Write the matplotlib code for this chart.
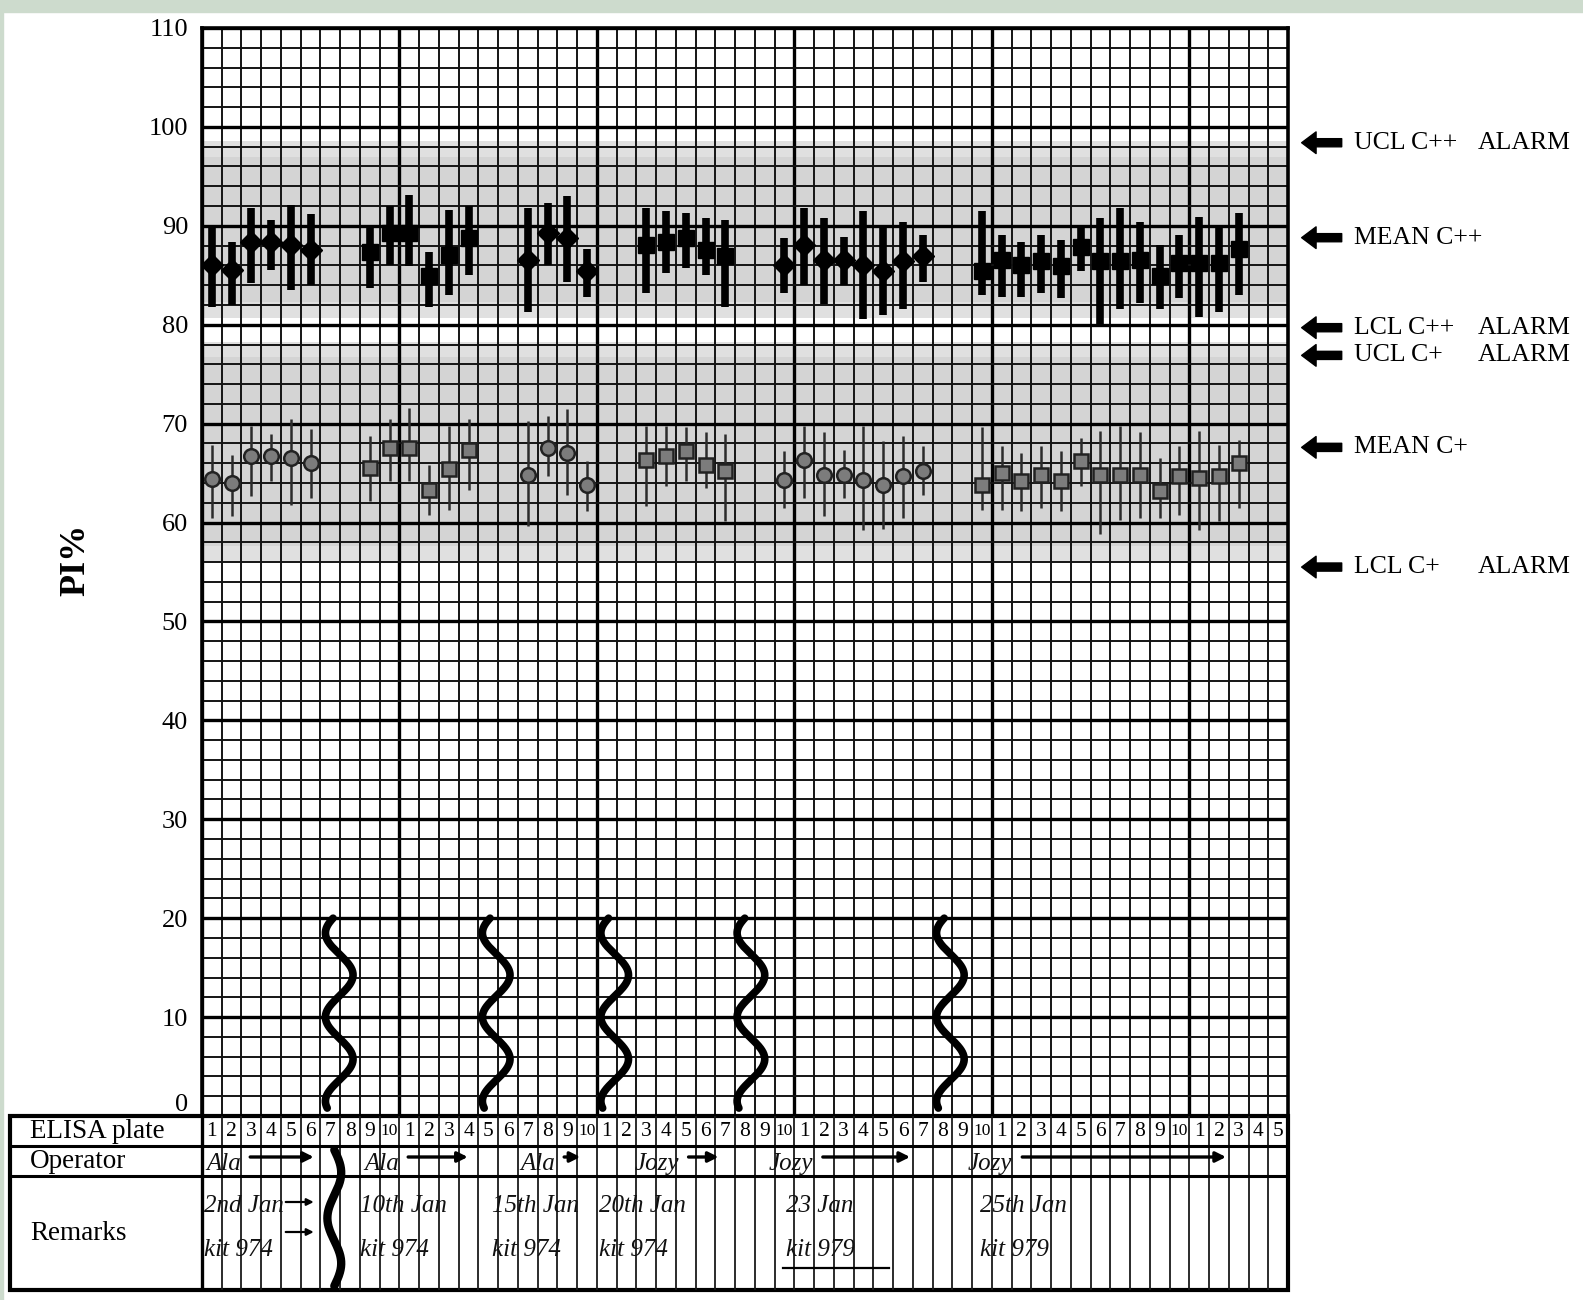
import numpy as np
import matplotlib
matplotlib.use('Agg')
import matplotlib.pyplot as plt
from matplotlib.patches import Rectangle

plt.rcParams['font.family'] = ['Liberation Serif', 'DejaVu Serif']

# ---- values -------------------------------------------------------------
n_slots = 55  # ELISA plate slots along the bottom
plate_labels = [str(i % 10 + 1) for i in range(n_slots)]

# slot (0-based column) of every plotted plate
run_cols = [0, 1, 2, 3, 4, 5,
            8, 9, 10, 11, 12, 13,
            16, 17, 18, 19,
            22, 23, 24, 25, 26,
            29, 30, 31, 32, 33, 34, 35, 36,
            39, 40, 41, 42, 43, 44, 45, 46, 47, 48, 49, 50, 51, 52]

# strong positive control (C++)
cpp_mean = [86.0, 85.5, 88.4, 88.4, 88.1, 87.6,
            87.4, 89.3, 89.3, 84.9, 87.1, 88.8,
            86.5, 89.3, 88.8, 85.4,
            88.1, 88.4, 88.8, 87.6, 86.9,
            86.0, 88.1, 86.5, 86.5, 86.0, 85.4, 86.4, 86.9,
            85.4, 86.5, 86.0, 86.4, 85.9, 87.9, 86.4, 86.4, 86.5, 84.9, 86.2, 86.2, 86.2, 87.7]
cpp_hi = [89.8, 88.4, 91.8, 90.6, 92.1, 91.2,
          90.1, 92.0, 93.1, 87.4, 91.6, 92.0,
          91.8, 92.3, 93.0, 87.7,
          91.8, 91.5, 91.3, 90.8, 90.6,
          88.8, 91.8, 90.8, 88.9, 91.5, 89.8, 90.4, 89.1,
          91.5, 89.1, 88.4, 89.1, 88.6, 89.9, 90.8, 91.8, 90.4, 88.1, 89.1, 90.9, 89.8, 91.3]
cpp_lo = [81.8, 82.0, 84.2, 85.5, 83.5, 84.0,
          83.7, 86.0, 85.9, 81.8, 83.0, 85.0,
          81.3, 86.0, 84.3, 82.8,
          83.2, 85.2, 85.7, 85.0, 81.8,
          83.2, 84.0, 82.1, 84.0, 80.6, 81.0, 81.6, 84.3,
          83.0, 82.8, 82.8, 83.2, 82.7, 85.4, 80.1, 81.6, 82.2, 81.6, 82.7, 80.8, 81.3, 83.0]

# weak positive control (C+)
cp_mean = [64.4, 64.0, 66.7, 66.7, 66.5, 66.0,
           65.5, 67.5, 67.5, 63.3, 65.4, 67.3,
           64.8, 67.5, 67.0, 63.8,
           66.3, 66.7, 67.2, 65.8, 65.2,
           64.3, 66.3, 64.8, 64.8, 64.3, 63.8, 64.7, 65.2,
           63.8, 65.0, 64.2, 64.8, 64.2, 66.2, 64.8, 64.8, 64.8, 63.2, 64.7, 64.5, 64.7, 66.0]
cp_hi = [67.8, 66.8, 69.8, 69.0, 70.5, 69.5,
         68.7, 70.5, 71.6, 65.8, 69.8, 70.5,
         70.3, 70.8, 71.5, 66.2,
         69.8, 69.8, 69.7, 69.2, 69.0,
         67.2, 69.8, 69.2, 67.3, 69.8, 68.2, 68.8, 67.7,
         69.7, 67.7, 67.0, 67.7, 67.2, 68.5, 69.3, 69.8, 69.2, 66.5, 67.7, 69.3, 67.8, 68.3]
cp_lo = [60.5, 60.7, 62.7, 64.2, 61.8, 62.5,
         62.2, 64.2, 64.2, 60.8, 61.3, 63.3,
         59.7, 64.7, 62.8, 61.2,
         61.7, 63.7, 64.2, 63.5, 60.2,
         61.5, 62.5, 60.7, 62.5, 59.2, 59.3, 60.5, 62.8,
         61.3, 61.3, 61.2, 61.5, 61.2, 63.7, 58.8, 60.3, 60.5, 60.5, 60.8, 59.2, 60.2, 61.5]

# control bands (shaded) and the arrow labels on the right
band_pp = (80.7, 98.6)
band_p = (56.0, 78.3)
limit_names = ['UCL C++', 'MEAN C++', 'LCL C++', 'UCL C+', 'MEAN C+', 'LCL C+']
limit_levels = [98.4, 88.8, 79.7, 76.9, 67.6, 55.5]
limit_alarm = [True, False, True, True, False, True]

# breaks between sessions (squiggles), in slot units
break_cols = [6.95, 14.9, 20.9, 27.8, 37.9]

# handwritten notes in the table: (text, start slot, end of arrow)
operators = [('Ala', 0.1, 5.8), ('Ala', 8.1, 13.6), ('Ala', 16.0, 19.3),
             ('Jozy', 21.8, 26.3), ('Jozy', 28.6, 36.0), ('Jozy', 38.7, 52.0)]
remarks = [('2nd Jan', 'kit 974', 0.1), ('10th Jan', 'kit 974', 8.0),
           ('15th Jan', 'kit 974', 14.7), ('20th Jan', 'kit 974', 20.1),
           ('23 Jan', 'kit 979', 29.6), ('25th Jan', 'kit 979', 39.4)]

# ---- figure ---------------------------------------------------------------
W, H = 1583, 1300
fig = plt.figure(figsize=(W / 100, H / 100), dpi=100)
fig.patches.append(Rectangle((0, 1 - 12 / H), 1, 12 / H, transform=fig.transFigure,
                             color='#cddbcd', zorder=0))
fig.patches.append(Rectangle((0, 0), 3 / W, 1, transform=fig.transFigure,
                             color='#cddbcd', zorder=0))

ax_l, ax_r, ax_t, ax_b = 202, 1288, 28, 1116
ax = fig.add_axes([ax_l / W, 1 - ax_b / H, (ax_r - ax_l) / W, (ax_b - ax_t) / H])
ax.set_xlim(0, n_slots)
ax.set_ylim(0, 110)

# shaded control bands (lighter outer strip, darker inner)
for lo, hi in (band_pp, band_p):
    ax.axhspan(lo, hi, color='#e0e0e0', zorder=0.2, lw=0)
    ax.axhspan(lo + 1.6, hi - 1.6, color='#d4d4d4', zorder=0.3, lw=0)

# graph-paper grid
ax.set_xticks(np.arange(0, n_slots + 1, 10))
ax.set_xticks(np.arange(0, n_slots + 1, 1), minor=True)
ax.set_yticks(np.arange(0, 111, 10))
ax.set_yticks(np.arange(0, 111, 2), minor=True)
ax.set_axisbelow(True)
ax.grid(which='minor', color='#141414', lw=1.4)
ax.grid(which='major', color='black', lw=2.4)
ax.tick_params(which='both', length=0)
ax.tick_params(axis='y', pad=10, labelsize=19)
ax.set_xticklabels([])
ax.get_yticklabels()[0].set_va('bottom')
for s in ax.spines.values():
    s.set_linewidth(2.6)

# split runs into sessions to alternate the marker shapes like the chart
xs = np.array(run_cols) + 0.5
session = np.concatenate([[0], np.cumsum(np.diff(run_cols) > 1)])

ax.vlines(xs, cpp_lo, cpp_hi, color='black', lw=5.5, zorder=3)
ax.vlines(xs, cp_lo, cp_hi, color='#2b2b2b', lw=1.8, zorder=3)
for k in np.unique(session):
    m = session == k
    ax.plot(xs[m], np.array(cpp_mean)[m], ls='none', marker='D' if k % 2 == 0 else 's',
            ms=11.5, color='black', zorder=4)
    ax.plot(xs[m], np.array(cp_mean)[m], ls='none', marker='o' if k % 2 == 0 else 's',
            ms=10.5, mfc='#7c7c7c', mec='#222222', mew=1.8, zorder=4)

# session-break squiggles
v = np.linspace(0.8, 20, 300)
for c in break_cols:
    ax.plot(c - 0.7 * np.cos(2 * np.pi * (v - 10) / 8.5), v, color='black', lw=5.5,
            solid_capstyle='round', zorder=5)

# arrows and limit labels on the right
yt = ax.get_yaxis_transform()
for name, lv, alarm in zip(limit_names, limit_levels, limit_alarm):
    ax.annotate('', xy=(1.010, lv), xytext=(1.052, lv), xycoords=yt, textcoords=yt,
                arrowprops=dict(arrowstyle='simple,head_length=0.8,head_width=1.2,tail_width=0.45',
                                fc='black', ec='black', mutation_scale=13))
    ax.text(1.061, lv, name, transform=yt, va='center', ha='left', fontsize=18.5)
    if alarm:
        ax.text(1.175, lv, 'ALARM', transform=yt, va='center', ha='left', fontsize=18.5)

fig.text(76 / W, 1 - 560 / H, 'PI%', rotation=90, fontweight='bold', fontsize=26,
         ha='center', va='center')

# ---- record table under the chart ------------------------------------------
t_l, t_r, t_t, t_b = 10, 1288, 1116, 1290
tax = fig.add_axes([t_l / W, 1 - t_b / H, (t_r - t_l) / W, (t_b - t_t) / H])
slot_px = (ax_r - ax_l) / n_slots
x0 = -(ax_l - t_l) / slot_px
row_top = t_b - t_t
tax.set_xlim(x0, n_slots)
tax.set_ylim(0, row_top)
tax.axis('off')
for c in range(1, n_slots):
    tax.plot([c, c], [0, row_top], color='#1a1a1a', lw=1.3)
for yy in (114, 144):
    tax.plot([x0, n_slots], [yy, yy], color='black', lw=2.2)
tax.plot([0, 0], [0, row_top], color='black', lw=2.4)
tax.add_patch(Rectangle((x0, 0), n_slots - x0, row_top, fill=False, lw=3, ec='black',
                        clip_on=False))

lab_x = x0 + 20 / slot_px
tax.text(lab_x, 159, 'ELISA plate', fontsize=19.5, va='center', ha='left')
tax.text(lab_x, 129, 'Operator', fontsize=19.5, va='center', ha='left')
tax.text(lab_x, 57, 'Remarks', fontsize=19.5, va='center', ha='left')
for i, lab in enumerate(plate_labels):
    tax.text(i + 0.5, 159, lab, fontsize=15.5 if len(lab) == 1 else 12.5, ha='center',
             va='center')

hand = dict(fontstyle='italic', fontsize=18, color='#111111')
for name, start, end in operators:
    tax.text(start + 0.1, 126, name, ha='left', va='center', **hand)
    a0 = start + 0.5 * len(name) + 0.7
    tax.annotate('', xy=(end, 133), xytext=(a0, 133),
                 arrowprops=dict(arrowstyle='-|>', lw=2.4, color='black',
                                 mutation_scale=15))
for date, kit, start in remarks:
    tax.text(start, 84, date, ha='left', va='center', **hand)
    tax.text(start, 40, kit, ha='left', va='center', **hand)
# arrows and underline drawn beside the first and fifth remarks
for yy in (88, 58):
    tax.annotate('', xy=(5.8, yy), xytext=(4.1, yy),
                 arrowprops=dict(arrowstyle='-|>', lw=1.6, color='black', mutation_scale=10))
tax.plot([29.4, 34.8], [22, 22], color='black', lw=1.6)

# brace through the operator / remarks rows
vb = np.linspace(4, 140, 200)
tax.plot(6.7 + 0.35 * np.sin(2 * np.pi * (vb - 4) / 136 * 1.5), vb, color='black',
         lw=6, solid_capstyle='round')

fig.savefig('out.png', dpi=100, facecolor='white')
